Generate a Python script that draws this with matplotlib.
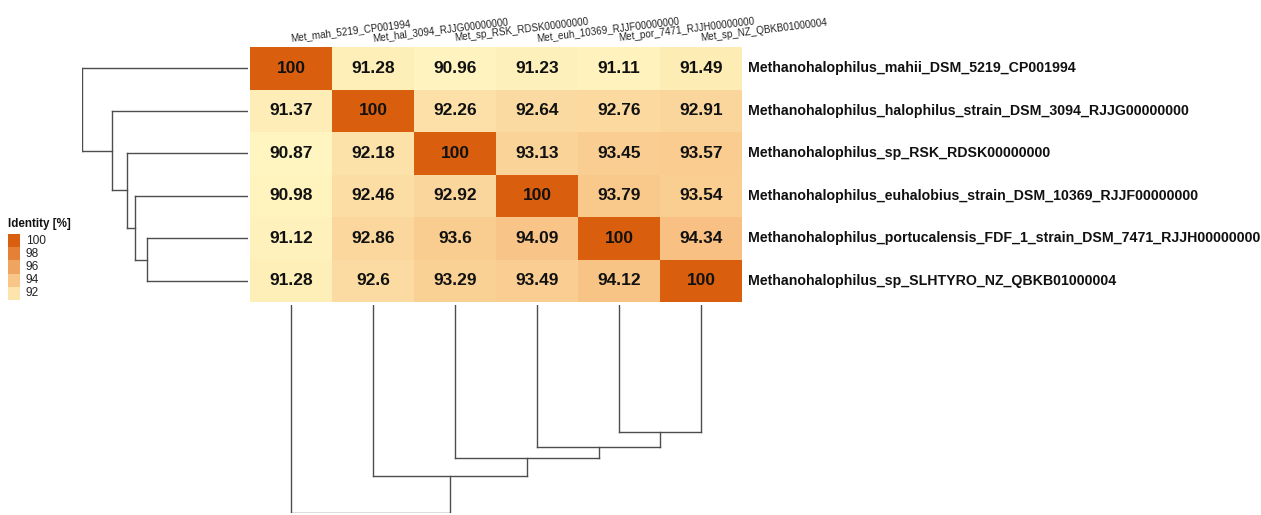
import matplotlib
matplotlib.use("Agg")
import matplotlib.pyplot as plt
from matplotlib.colors import LinearSegmentedColormap, Normalize
from matplotlib.patches import Rectangle
import numpy as np

plt.rcParams['font.family'] = ['Liberation Sans', 'DejaVu Sans']

# Genomes (rows) and their short column names
row_labels = [
    "Methanohalophilus_mahii_DSM_5219_CP001994",
    "Methanohalophilus_halophilus_strain_DSM_3094_RJJG00000000",
    "Methanohalophilus_sp_RSK_RDSK00000000",
    "Methanohalophilus_euhalobius_strain_DSM_10369_RJJF00000000",
    "Methanohalophilus_portucalensis_FDF_1_strain_DSM_7471_RJJH00000000",
    "Methanohalophilus_sp_SLHTYRO_NZ_QBKB01000004",
]
col_labels = [
    "Met_mah_5219_CP001994",
    "Met_hal_3094_RJJG00000000",
    "Met_sp_RSK_RDSK00000000",
    "Met_euh_10369_RJJF00000000",
    "Met_por_7471_RJJH00000000",
    "Met_sp_NZ_QBKB01000004",
]

# Pairwise average nucleotide identity [%]
identity = np.array([
    [100.00, 91.28, 90.96, 91.23, 91.11, 91.49],
    [91.37, 100.00, 92.26, 92.64, 92.76, 92.91],
    [90.87, 92.18, 100.00, 93.13, 93.45, 93.57],
    [90.98, 92.46, 92.92, 100.00, 93.79, 93.54],
    [91.12, 92.86, 93.60, 94.09, 100.00, 94.34],
    [91.28, 92.60, 93.29, 93.49, 94.12, 100.00],
])
cell_text = [
    ["100", "91.28", "90.96", "91.23", "91.11", "91.49"],
    ["91.37", "100", "92.26", "92.64", "92.76", "92.91"],
    ["90.87", "92.18", "100", "93.13", "93.45", "93.57"],
    ["90.98", "92.46", "92.92", "100", "93.79", "93.54"],
    ["91.12", "92.86", "93.6", "94.09", "100", "94.34"],
    ["91.28", "92.6", "93.29", "93.49", "94.12", "100"],
]

# Hierarchical clustering: (child a, child b, merge height); nodes >= 6 are clusters
row_merges = [(4, 5, 8.15), (3, 6, 9.12), (2, 7, 9.77), (1, 8, 10.98), (0, 9, 13.4)]
col_merges = [(4, 5, 8.18), (3, 6, 9.15), (2, 7, 9.86), (1, 8, 11.0), (0, 9, 13.4)]

legend_ticks = [100, 98, 96, 94, 92]
legend_title = "Identity [%]"

vmin, vmax = identity.min(), identity.max()
cmap = LinearSegmentedColormap.from_list(
    "identity",
    [(0.0, "#FFF5C0"), ((94.3 - vmin) / (vmax - vmin), "#F8C183"), (1.0, "#D95F0E")],
)
norm = Normalize(vmin=vmin, vmax=vmax)

W, H = 1261, 515
fig = plt.figure(figsize=(W / 100, H / 100), dpi=100)


def px_axes(x0, y0, x1, y1):
    return fig.add_axes([x0 / W, 1 - y1 / H, (x1 - x0) / W, (y1 - y0) / H])


n = len(row_labels)

# Heatmap
hx0, hy0, hx1, hy1 = 250, 47, 742, 302
ax = px_axes(hx0, hy0, hx1, hy1)
ax.pcolormesh(np.arange(n + 1), np.arange(n + 1), identity, cmap=cmap, norm=norm)
ax.set_xlim(0, n)
ax.set_ylim(n, 0)
ax.set_axis_off()
for i in range(n):
    for j in range(n):
        ax.text(j + 0.5, i + 0.5, cell_text[i][j], ha="center", va="center",
                fontsize=12.5, fontweight="bold", color="#111111")
    ax.text(n + 0.07, i + 0.5, row_labels[i], ha="left", va="center",
            fontsize=10.2, fontweight="bold", color="#111111", clip_on=False)
for j in range(n):
    ax.text(j + 0.5, -0.14, col_labels[j], ha="left", va="baseline",
            rotation=7, rotation_mode="anchor", fontsize=7.1, color="#222222",
            clip_on=False)


def draw_tree(axd, merges, orient):
    pos = {k: k + 0.5 for k in range(n)}
    hgt = {k: 0.0 for k in range(n)}
    node = n
    style = dict(color="#4d4d4d", lw=1.0)
    for a, b, h in merges:
        for c in (a, b):
            if orient == "left":
                axd.plot([hgt[c], h], [pos[c], pos[c]], **style)
            else:
                axd.plot([pos[c], pos[c]], [hgt[c], h], **style)
        if orient == "left":
            axd.plot([h, h], [pos[a], pos[b]], **style)
        else:
            axd.plot([pos[a], pos[b]], [h, h], **style)
        pos[node] = (pos[a] + pos[b]) / 2
        hgt[node] = h
        node += 1
    return max(h for _, _, h in merges)


# Row dendrogram (left)
axr = px_axes(82, hy0, 248, hy1)
top = draw_tree(axr, row_merges, "left")
axr.set_xlim(top, 0)
axr.set_ylim(n, 0)
axr.set_axis_off()

# Column dendrogram (below)
axc = px_axes(hx0, 305, hx1, 513)
top = draw_tree(axc, col_merges, "bottom")
axc.set_xlim(0, n)
axc.set_ylim(top, 0)
axc.set_axis_off()

# Legend
axl = fig.add_axes([0, 0, 1, 1], facecolor="none")
axl.set_xlim(0, W)
axl.set_ylim(H, 0)
axl.set_axis_off()
axl.text(8, 224, legend_title, ha="left", va="center", fontsize=8.4,
         fontweight="bold", color="#111111")
box_top, box_h = 234, 13.2
for k, v in enumerate(legend_ticks):
    y = box_top + k * box_h
    axl.add_patch(Rectangle((8, y), 12, box_h, facecolor=cmap(norm(v)),
                            edgecolor="none"))
    axl.text(26, y + box_h / 2, str(v), ha="left", va="center",
             fontsize=8.6, color="#222222")

fig.savefig("out.png", dpi=100)
